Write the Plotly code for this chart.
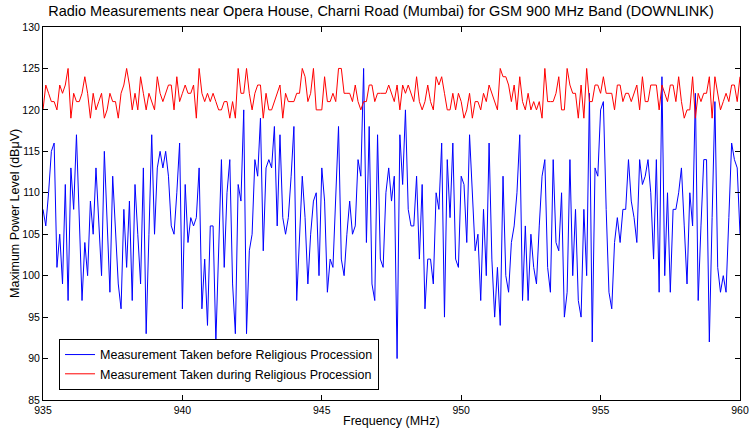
import numpy as np
import plotly.graph_objects as go

freq_start = 935.0
freq_step = 0.1

before_procession = [
    108,106,110,115,116,101,105,99,111,97, 113,108,117,107,97,104,100,109,105,113,
    106,100,115,106,98,112,106,99,96,108, 101,109,97,111,105,99,113,93,105,117,
    105,113,
    115,113,115,112,106,105,110,116,96,111, 104,107,106,107,113,96,102,94,106,106,
    92,104,114,101,110,114,99,93,111,109, 120,93,103,105,114,112,119,103,113,114,
    113,118,
    106,117,107,105,107,112,118,97,104,112, 107,99,105,109,110,100,113,109,98,102,
    101,110,118,102,100,105,109,105,106,114, 112,125,104,118,99,97,117,102,101,110,
    113,109,
    112,90,117,111,120,108,106,106,112,102, 111,96,102,102,99,110,108,116,95,114,
    107,116,102,101,112,111,104,117,110,103, 105,97,108,100,116,102,95,101,94,112,
    100,98,
    104,106,110,117,97,106,97,105,101,99, 106,112,114,101,98,114,104,103,110,95,
    98,114,100,108,97,95,108,100,122,92, 113,112,120,121,108,98,96,104,107,104,
    108,108,114,
    109,107,104,114,111,112,114,110,102,114, 98,124,100,110,98,108,108,110,113,106,
    99,110,106,122,97,106,114,114,92,107, 121,101,98,100,98,107,116,114,113,105,
]

during_procession = [
    120,123,122,121,121,120,123,122,123,125, 119,122,121,121,122,124,122,119,122,120,
    121,122,119,120,122,121,121,119,122,123, 125,123,120,122,120,124,122,120,122,121,
    120,124,
    122,121,122,123,123,120,124,121,122,123, 122,122,123,119,125,122,121,122,121,122,
    121,120,120,121,121,119,121,119,125,122, 122,125,122,120,122,123,123,119,122,120,
    120,121,
    122,123,119,122,121,121,121,122,122,125, 124,121,122,125,120,120,120,124,121,121,
    122,121,125,125,122,122,122,121,123,121, 120,121,121,123,123,121,122,122,122,122,
    123,122,
    121,123,120,123,122,123,122,121,124,121, 120,121,123,121,120,124,123,124,122,120,
    120,122,120,122,121,119,120,122,119,121, 121,120,122,121,123,122,121,120,125,124,
    124,123,
    121,123,120,124,121,120,122,120,121,120, 121,119,125,121,121,121,122,124,120,120,
    125,123,122,122,119,123,119,125,121,121, 123,123,122,124,122,122,122,120,123,123,
    121,122,122,
    121,122,123,120,124,121,121,123,123,123, 120,123,122,121,123,123,121,124,121,119,
    120,120,124,119,122,121,122,122,124,119, 124,122,120,121,122,121,123,123,121,124,
]

freqs = [round(freq_start + freq_step * i, 1) for i in range(len(before_procession))]

x_ticks = [935, 940, 945, 950, 955, 960]
y_ticks = [85, 90, 95, 100, 105, 110, 115, 120, 125, 130]

FONT = "Liberation Sans, Arial, sans-serif"

fig = go.Figure()
fig.add_trace(go.Scatter(
    x=freqs, y=before_procession, mode="lines",
    name="Measurement Taken before Religious Procession",
    line=dict(color="#0000ff", width=1),
))
fig.add_trace(go.Scatter(
    x=freqs[:len(during_procession)], y=during_procession, mode="lines",
    name="Measurement Taken during Religious Procession",
    line=dict(color="#ff0000", width=1),
))

axis_common = dict(
    showline=True, linecolor="black", linewidth=1, mirror="allticks",
    ticks="inside", ticklen=5, tickcolor="black", tickwidth=1,
    showgrid=False, zeroline=False, automargin=False,
    tickfont=dict(family=FONT, size=10.5, color="black"),
)

fig.update_layout(
    width=749, height=430,
    margin=dict(l=43, r=9, t=27, b=30, autoexpand=False),
    paper_bgcolor="white", plot_bgcolor="white",
    title=dict(
        text="Radio Measurements near Opera House, Charni Road (Mumbai) for GSM 900 MHz Band (DOWNLINK)",
        x=0.5087, xanchor="center", y=0.974, yanchor="middle",
        font=dict(family=FONT, size=14.5, color="black"),
    ),
    xaxis=dict(range=[935, 960], tickvals=x_ticks, **axis_common),
    yaxis=dict(range=[85, 130], tickvals=y_ticks, **axis_common),
    legend=dict(
        x=0.023, y=0.027, xanchor="left", yanchor="bottom",
        bgcolor="white", bordercolor="black", borderwidth=1,
        font=dict(family=FONT, size=12.5, color="black"),
        tracegroupgap=0, itemwidth=30,
    ),
    showlegend=True,
    annotations=[
        dict(text="Frequency (MHz)", xref="paper", yref="paper",
             x=0.5, y=-0.056, xanchor="center", yanchor="middle", showarrow=False,
             font=dict(family=FONT, size=12.5, color="black")),
        dict(text="Maximum Power Level (dBμV)", xref="paper", yref="paper",
             x=-0.041, y=0.5, xanchor="center", yanchor="middle", textangle=-90,
             showarrow=False, font=dict(family=FONT, size=12.5, color="black")),
    ],
)

fig.write_html("out.html",
               config={"displayModeBar": False},
               post_script="document.body.style.margin='0';document.body.style.overflow='hidden';")
